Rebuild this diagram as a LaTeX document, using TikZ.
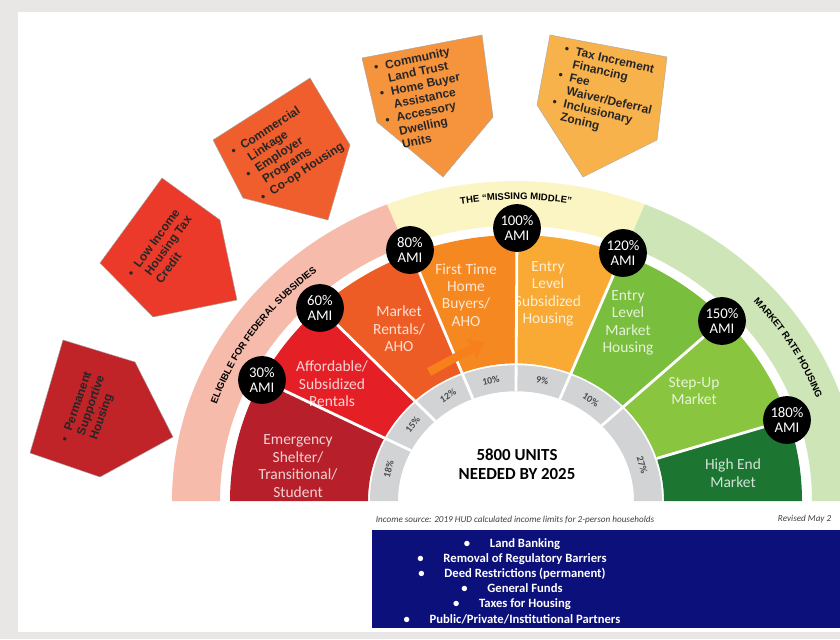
\documentclass[tikz,border=0pt]{standalone}
\usepackage{fontspec}
\setmainfont{Carlito}
\newfontfamily\arialfont{Liberation Sans}
\usetikzlibrary{arrows.meta,decorations.text}

\definecolor{framegray}{RGB}{233,230,230}
\definecolor{shelterred}{RGB}{183,32,42}
\definecolor{rentred}{RGB}{228,32,38}
\definecolor{marketor}{RGB}{238,92,38}
\definecolor{buyeror}{RGB}{245,136,32}
\definecolor{entryor}{RGB}{248,170,52}
\definecolor{entrygreen}{RGB}{122,190,62}
\definecolor{stepgreen}{RGB}{138,197,64}
\definecolor{highgreen}{RGB}{28,118,50}
\definecolor{ringgray}{RGB}{210,211,213}
\definecolor{subsidypink}{RGB}{247,187,172}
\definecolor{middleyellow}{RGB}{251,245,195}
\definecolor{marketgreen}{RGB}{206,229,183}
\definecolor{navybox}{RGB}{12,16,122}
\definecolor{pshred}{RGB}{192,36,40}
\definecolor{lihtcred}{RGB}{236,58,42}
\definecolor{linkor}{RGB}{239,94,44}
\definecolor{cltor}{RGB}{246,148,62}
\definecolor{tifor}{RGB}{248,178,76}
\definecolor{arrowor}{RGB}{247,128,28}

\newcommand{\bandfont}{\arialfont\bfseries\fontsize{6.8}{6.8}\selectfont}

\tikzset{
  ami/.style={circle, fill=black, text=white, minimum size=34pt, inner sep=0pt, align=center, font=\fontsize{10.5}{10.5}\selectfont},
  seglabel/.style={align=center, text=white, text opacity=0.8, font=\fontsize{11}{12.4}\selectfont},
  sepline/.style={draw=white, line width=2pt},
  pct/.style={font=\fontsize{7}{7}\selectfont\bfseries, text=black!70, inner sep=0pt},
  callout/.style={draw=black!35, line width=0.3pt},
  callouttext/.style={font=\arialfont\fontsize{8.5}{9.6}\selectfont\bfseries, text=black!85, inner sep=0pt},
}

\begin{document}
\begin{tikzpicture}[x=0.025cm, y=0.025cm]
\clip (0,0) rectangle (840,639);
\fill[framegray] (0,0) rectangle (840,639);
\fill[white] (18,7) rectangle (840,627);

\begin{scope}[shift={(516,138)}, yscale=0.93]
\foreach \a/\b/\c in {112/180/subsidypink, 68/112/middleyellow, 0/68/marketgreen}
  \fill[\c] (\a:296) arc[start angle=\a, end angle=\b, radius=296] -- (\b:344) arc[start angle=\b, end angle=\a, radius=344] -- cycle;
\fill[ringgray] (0:118) arc[start angle=0, end angle=180, radius=118] -- (180:146) arc[start angle=180, end angle=0, radius=146] -- cycle;
\foreach \a/\b/\c in {152.7/180/shelterred, 133.2/152.7/rentred, 111.4/133.2/marketor, 90/111.4/buyeror,
                      68.2/90/entryor, 43.4/68.2/entrygreen, 18/43.4/stepgreen, 0/18/highgreen}
  \fill[\c] (\a:148) arc[start angle=\a, end angle=\b, radius=148] -- (\b:286) arc[start angle=\b, end angle=\a, radius=286] -- cycle;

\path[decorate, decoration={text along path, text align=center, text={|\bandfont|ELIGIBLE FOR FEDERAL SUBSIDIES}}]
  (168:317) arc[start angle=168, end angle=122, radius=317];
\path[decorate, decoration={text along path, text align=center, text={|\bandfont|THE “MISSING MIDDLE”}}]
  (108:324) arc[start angle=108, end angle=72, radius=324];
\path[decorate, decoration={text along path, text align=center, text={|\bandfont|MARKET RATE HOUSING}}]
  (50:320) arc[start angle=50, end angle=12, radius=320];

\foreach \a/\t in {165/18\%, 141.5/15\%, 121/12\%, 101/10\%, 78.5/9\%, 55.5/10\%, 17/27\%}
  \node[pct, rotate=\a-90] at (\a:132) {\t};
\end{scope}

\node[seglabel] (shelter) at (298,173) {Emergency\\Shelter/\\Transitional/\\Student};
\node[seglabel] (rentals) at (332,255) {Affordable/\\Subsidized\\Rentals};
\node[seglabel] (market) at (399,310) {Market\\Rentals/\\AHO};
\node[seglabel] (buyers) at (466,344) {First Time\\Home\\Buyers/\\AHO};
\node[seglabel] (subsidized) at (548,345) {Entry\\Level\\Subsidized\\Housing};
\node[seglabel] (entrymkt) at (628,316) {Entry\\Level\\Market\\Housing};
\node[seglabel] (stepup) at (694,248) {Step-Up\\Market};
\node[seglabel] (highend) at (733,166) {High End\\Market};

\node[ami] (ami30) at (262,259) {30\%\\AMI};
\node[ami] (ami60) at (320,331) {60\%\\AMI};
\node[ami] (ami80) at (410,389) {80\%\\AMI};
\node[ami] (ami100) at (517,411) {100\%\\AMI};
\node[ami] (ami120) at (623,386) {120\%\\AMI};
\node[ami] (ami150) at (722,318) {150\%\\AMI};
\node[ami] (ami180) at (787,219) {180\%\\AMI};

\begin{scope}[shift={(516,138)}, yscale=0.93]
\draw[sepline] (152.7:118) -- (ami30);
\draw[sepline] (133.2:118) -- (ami60);
\draw[sepline] (111.4:118) -- (ami80);
\draw[sepline] (90:118) -- (ami100);
\draw[sepline] (68.2:118) -- (ami120);
\draw[sepline] (43.4:118) -- (ami150);
\draw[sepline] (18:148) -- (ami180);
\end{scope}

\coordinate (arrtail) at (429,267);
\coordinate (arrtip) at (484,297);
\draw[arrowor, line width=6pt, -{Triangle[length=10pt, width=15pt]}] (arrtail) -- (arrtip);

\node[font=\fontsize{12}{13.5}\selectfont\bfseries, align=center] (units) at (517,175) {5800 UNITS\\NEEDED BY 2025};

\filldraw[callout, fill=pshred] (63,299) -- (135,277) -- (173,202) -- (100,162) -- (30,186) -- cycle;
\filldraw[callout, fill=lihtcred] (162,461) -- (220,419) -- (237,339) -- (153,322) -- (100,376) -- cycle;
\filldraw[callout, fill=linkor] (213,499) -- (310,561) -- (350,494) -- (328,419) -- (243,441) -- cycle;
\filldraw[callout, fill=cltor] (362,581) -- (482,604) -- (493,522) -- (443,462) -- (377,517) -- cycle;
\filldraw[callout, fill=tifor] (550,604) -- (667,582) -- (657,499) -- (583,462) -- (537,534) -- cycle;

\node[callouttext, rotate=71] (psh) at (90,228) {\begin{tabular}{@{}l@{\hspace{5pt}}l@{}}\textbullet & Permanent\\ & Supportive\\ & Housing\end{tabular}};
\node[callouttext, rotate=54] (lihtc) at (166,388) {\begin{tabular}{@{}l@{\hspace{5pt}}l@{}}\textbullet & Low Income\\ & Housing Tax\\ & Credit\end{tabular}};
\node[callouttext, rotate=33] (linkage) at (288,489) {\begin{tabular}{@{}l@{\hspace{5pt}}l@{}}\textbullet & Commercial\\ & Linkage\\ \textbullet & Employer\\ & Programs\\ \textbullet & Co-op Housing\end{tabular}};
\node[callouttext, rotate=12] (clt) at (423,539) {\begin{tabular}{@{}l@{\hspace{5pt}}l@{}}\textbullet & Community\\ & Land Trust\\ \textbullet & Home Buyer\\ & Assistance\\ \textbullet & Accessory\\ & Dwelling\\ & Units\end{tabular}};
\node[callouttext, rotate=-13] (tif) at (605,545) {\begin{tabular}{@{}l@{\hspace{5pt}}l@{}}\textbullet & Tax Increment\\ & Financing\\ \textbullet & Fee\\ & Waiver/Deferral\\ \textbullet & Inclusionary\\ & Zoning\end{tabular}};

\node[font=\fontsize{6.5}{6.5}\selectfont\itshape, text=black!75] (source) at (515,119) {Income source: 2019 HUD calculated income limits for 2-person households};
\node[font=\fontsize{6.5}{6.5}\selectfont\itshape, text=black!75, anchor=west] (revised) at (773,120) {Revised May 2};

\fill[navybox] (372,11) rectangle (840,109);
\node[font=\fontsize{9}{10.8}\selectfont\bfseries, text=white, align=center] (tools) at (512,58)
  {\textbullet\hspace{14pt}Land Banking\\
   \textbullet\hspace{14pt}Removal of Regulatory Barriers\\
   \textbullet\hspace{14pt}Deed Restrictions (permanent)\\
   \textbullet\hspace{14pt}General Funds\\
   \textbullet\hspace{14pt}Taxes for Housing\\
   \textbullet\hspace{14pt}Public/Private/Institutional Partners};
\end{tikzpicture}
\end{document}
